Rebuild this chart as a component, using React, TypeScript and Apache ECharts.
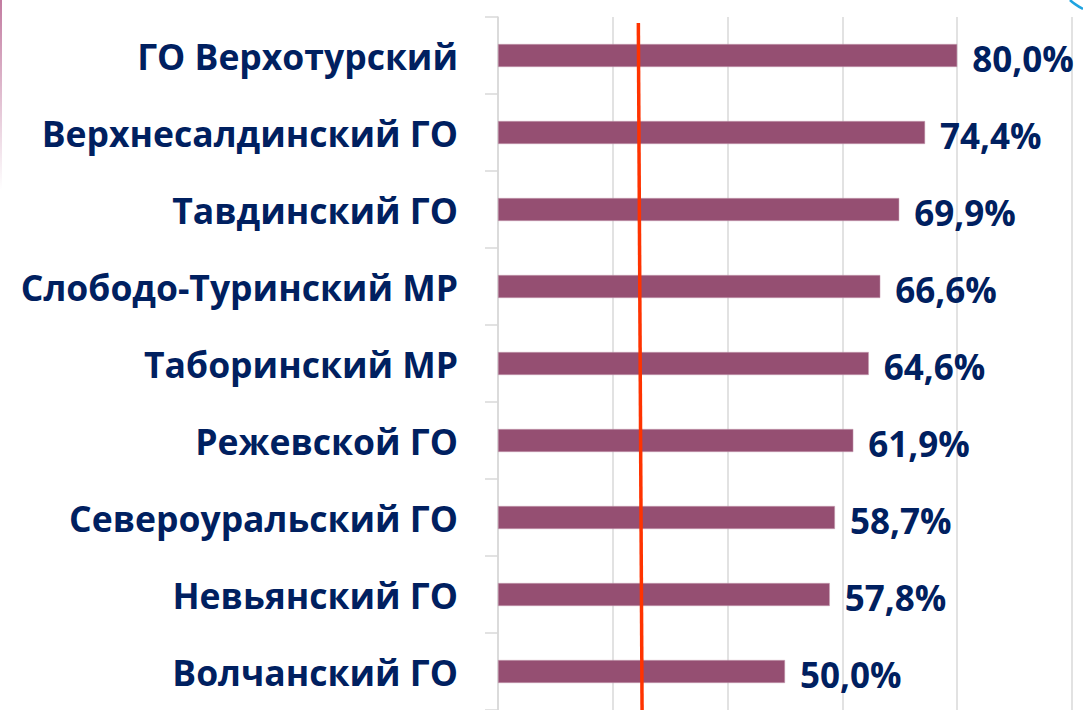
import React, { useEffect, useRef } from "react";
import * as echarts from "echarts";

const categories = [
  "ГО Верхотурский",
  "Верхнесалдинский ГО",
  "Тавдинский ГО",
  "Слободо-Туринский МР",
  "Таборинский МР",
  "Режевской ГО",
  "Североуральский ГО",
  "Невьянский ГО",
  "Волчанский ГО",
];
const values = [80.0, 74.4, 69.9, 66.6, 64.6, 61.9, 58.7, 57.8, 50.0];
// reference (target) line, slightly slanted in the original
const targetTop = 24.45;
const targetBottom = 25.1;

const FONT = "'Open Sans', 'Noto Sans', sans-serif";
const NAVY = "#002060";

export default function App() {
  const ref = useRef<HTMLDivElement>(null);
  useEffect(() => {
    if (!ref.current) return;
    const chart = echarts.init(ref.current, undefined, { renderer: "svg" });
    chart.setOption({
      animation: false,
      backgroundColor: "#ffffff",
      grid: { left: 498, right: 11, top: 17, height: 695, containLabel: false },
      xAxis: {
        type: "value",
        min: 0,
        max: 100,
        interval: 20,
        axisLine: { show: false },
        axisTick: { show: false },
        axisLabel: { show: false },
        splitLine: { show: true, lineStyle: { color: "#D9D9D9", width: 1.5 } },
      },
      yAxis: {
        type: "category",
        inverse: true,
        data: categories,
        axisLine: { show: true, lineStyle: { color: "#D9D9D9", width: 1.5 } },
        axisTick: { show: true, length: 13, lineStyle: { color: "#D9D9D9", width: 1.5 } },
        axisLabel: {
          margin: 40,
          color: NAVY,
          fontFamily: FONT,
          fontWeight: "bold",
          fontSize: 35.5,
        },
      },
      series: [
        {
          type: "bar",
          data: values,
          barWidth: 23,
          itemStyle: { color: "#954F72", borderColor: "#C9A3B6", borderWidth: 0.5 },
          label: {
            show: true,
            position: "right",
            distance: 15,
            offset: [0, 3],
            color: NAVY,
            fontFamily: FONT,
            fontWeight: "bold",
            fontSize: 35,
            formatter: (p: any) => p.value.toFixed(1).replace(".", ",") + "%",
          },
        },
      ],
    });
    const x1 = chart.convertToPixel({ xAxisIndex: 0 }, targetTop) as number;
    const x2 = chart.convertToPixel({ xAxisIndex: 0 }, targetBottom) as number;
    chart.setOption({
      graphic: [
        {
          type: "line",
          shape: { x1, y1: 23, x2, y2: 712 },
          style: { stroke: "#FF3300", lineWidth: 3.5 },
          z: 100,
        },
        {
          type: "rect",
          shape: { x: 0, y: 0, width: 2, height: 190 },
          style: {
            fill: new echarts.graphic.LinearGradient(0, 0, 0, 1, [
              { offset: 0, color: "#C27BA0" },
              { offset: 1, color: "rgba(194,123,160,0)" },
            ]),
          },
        },
        {
          type: "bezierCurve",
          shape: { x1: 1070, y1: 0, x2: 1083, y2: 9, cpx1: 1074, cpy1: 4 },
          style: { stroke: "#1FA3E0", lineWidth: 2.5, fill: null },
        },
      ],
    });
    return () => chart.dispose();
  }, []);
  return (
    <div
      ref={ref}
      style={{ position: "fixed", left: 0, top: 0, width: 1083, height: 710 }}
    />
  );
}
